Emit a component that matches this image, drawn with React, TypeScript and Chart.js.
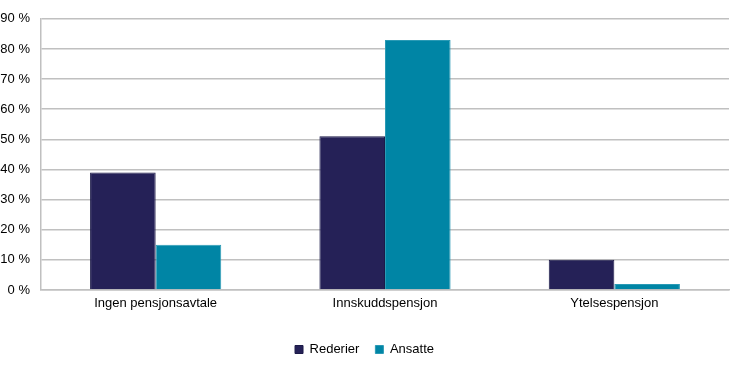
import React, { useEffect, useRef } from "react";
import { Chart, registerables } from "chart.js";

Chart.register(...registerables);

const categories = ["Ingen pensjonsavtale", "Innskuddspensjon", "Ytelsespensjon"];
const rederier = [39, 51, 10];
const ansatte = [15, 83, 2];
const yTicks = [0, 10, 20, 30, 40, 50, 60, 70, 80, 90];

export default function App() {
  const ref = useRef<HTMLCanvasElement | null>(null);
  useEffect(() => {
    document.body.style.margin = "0";
    const ctx = ref.current!;
    const font = { family: "'Liberation Sans', Arial, sans-serif", size: 13 };
    const chart = new Chart(ctx, {
      type: "bar",
      data: {
        labels: categories,
        datasets: [
          {
            label: "Rederier",
            data: rederier,
            backgroundColor: "#252157",
            borderColor: "#1c1a48",
            borderWidth: 1,
            categoryPercentage: 0.572,
            barPercentage: 1,
          },
          {
            label: "Ansatte",
            data: ansatte,
            backgroundColor: "#0085a5",
            borderColor: "#2a9ab5",
            borderWidth: 1,
            categoryPercentage: 0.572,
            barPercentage: 1,
          },
        ],
      },
      options: {
        animation: false,
        responsive: false,
        maintainAspectRatio: false,
        layout: { padding: { top: 15, right: 1, left: 0, bottom: 6 } },
        plugins: {
          legend: {
            position: "bottom",
            labels: {
              boxWidth: 8,
              boxHeight: 8,
              font,
              color: "#000",
              padding: 16,
            },
          },
          tooltip: { enabled: false },
        },
        scales: {
          x: {
            grid: { display: false, drawTicks: false },
            border: { color: "#c0c0c0", width: 1.5 },
            ticks: { font, color: "#000", padding: 6 },
            afterFit: (axis: any) => {
              axis.height = 37;
            },
          },
          y: {
            min: 0,
            max: 90,
            afterBuildTicks: (axis: any) => {
              axis.ticks = yTicks.map((v) => ({ value: v }));
            },
            afterFit: (axis: any) => {
              axis.width = 41;
            },
            grid: { color: "#c0c0c0", lineWidth: 1.5, drawTicks: false },
            border: { color: "#c0c0c0", width: 1.5 },
            ticks: {
              font,
              color: "#000",
              padding: 11,
              callback: (v: any) => `${v} %`,
            },
          },
        },
      },
    });
    return () => chart.destroy();
  }, []);
  return <canvas ref={ref} width={730} height={372} style={{ display: "block" }} />;
}
